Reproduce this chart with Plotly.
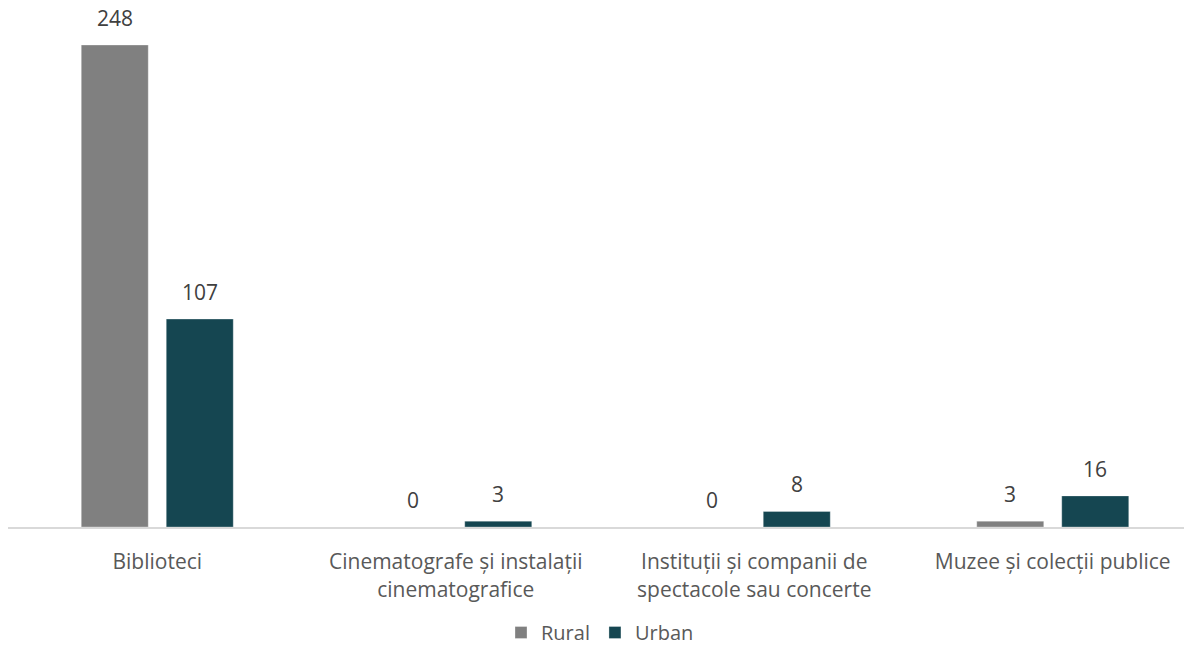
import plotly.graph_objects as go

categories = [
    "Biblioteci",
    "Cinematografe și instalații<br>cinematografice",
    "Instituții și companii de<br>spectacole sau concerte",
    "Muzee și colecții publice",
]
rural = [248, 0, 0, 3]
urban = [107, 3, 8, 16]

FONT = "Open Sans"
series = [("Rural", rural, "#808080", -42.5), ("Urban", urban, "#154651", 42.5)]

# the page body has an 8px margin, so the figure is sized to fit inside it
W, H = 1184, 644

fig = go.Figure()
for name, vals, color, _ in series:
    fig.add_trace(
        go.Bar(
            x=categories,
            y=vals,
            name=name,
            marker=dict(color=color, line=dict(color="rgba(255,255,255,0.3)", width=1)),
            hoverinfo="x+y+name",
        )
    )

# value labels sit well above the bars, so draw them as annotations
for name, vals, color, dx in series:
    for cat, v in zip(categories, vals):
        fig.add_annotation(
            x=cat,
            y=v,
            text=str(v),
            showarrow=False,
            xshift=dx,
            yshift=11,
            yanchor="bottom",
            font=dict(family=FONT, size=21, color="#404040"),
        )

fig.update_layout(
    width=W,
    height=H,
    barmode="group",
    bargap=0.4305,
    bargroupgap=0.2118,
    margin=dict(l=0, r=0, t=20, b=125, autoexpand=False),
    paper_bgcolor="white",
    plot_bgcolor="white",
    font=dict(family=FONT, size=21, color="#595959"),
    xaxis=dict(
        range=[-0.5, -0.5 + W / 298.5],
        showline=True,
        linecolor="#d9d9d9",
        linewidth=2,
        ticks="outside",
        ticklen=15,
        tickcolor="rgba(0,0,0,0)",
        tickfont=dict(family=FONT, size=21, color="#595959"),
        automargin=False,
    ),
    yaxis=dict(visible=False, range=[0, 248 * 499 / 482]),
    legend=dict(
        orientation="h",
        x=0.5,
        xanchor="center",
        xref="container",
        y=0,
        yanchor="bottom",
        yref="container",
        font=dict(family=FONT, size=20, color="#595959"),
        itemwidth=30,
    ),
)

fig.write_html("out.html")
